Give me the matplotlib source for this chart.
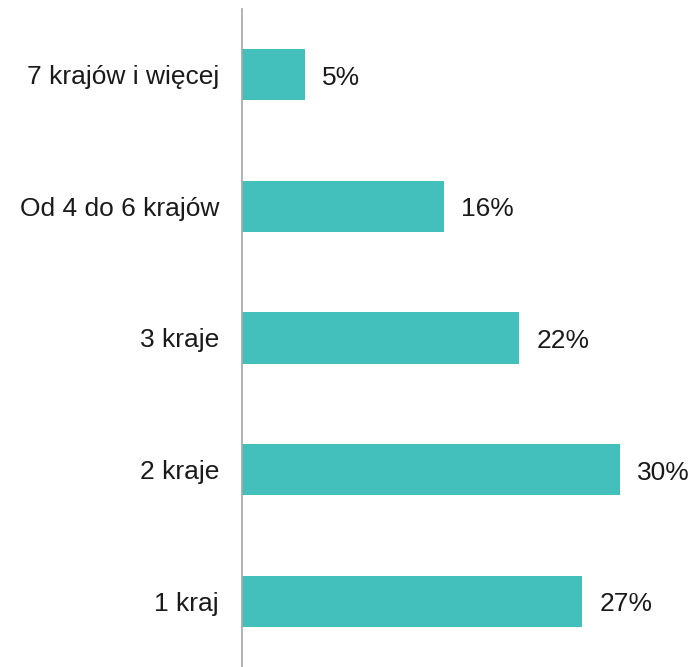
import matplotlib.pyplot as plt

categories = ['7 krajów i więcej', 'Od 4 do 6 krajów', '3 kraje', '2 kraje', '1 kraj']
values = [5, 16, 22, 30, 27]
value_labels = ['5%', '16%', '22%', '30%', '27%']

bar_color = '#43BFBC'

fig = plt.figure(figsize=(6.93, 6.67), dpi=100)
ax = fig.add_axes([242 / 693, 0.0, 1 - 242 / 693, 1 - 9 / 667])

pos = list(range(len(categories)))
ax.barh(pos, values, height=0.39, color=bar_color)
ax.set_ylim(len(categories) - 0.5, -0.5)
ax.set_xlim(0, 35.8)

# value labels to the right of each bar
for p, v, lab in zip(pos, values, value_labels):
    ax.annotate(lab, (v, p), xytext=(17, -3), textcoords='offset pixels',
                ha='left', va='center', fontsize=19, family='Liberation Sans', color='#1a1a1a')

ax.set_yticks(pos)
ax.set_yticklabels(categories, fontsize=19, family='Liberation Sans', color='#1a1a1a')
ax.tick_params(axis='y', length=0, pad=16.5)
ax.set_xticks([])

for s in ['top', 'right', 'bottom']:
    ax.spines[s].set_visible(False)
ax.spines['left'].set_color('#a6a6a6')
ax.spines['left'].set_linewidth(1.2)

fig.savefig('out.png', dpi=100)
